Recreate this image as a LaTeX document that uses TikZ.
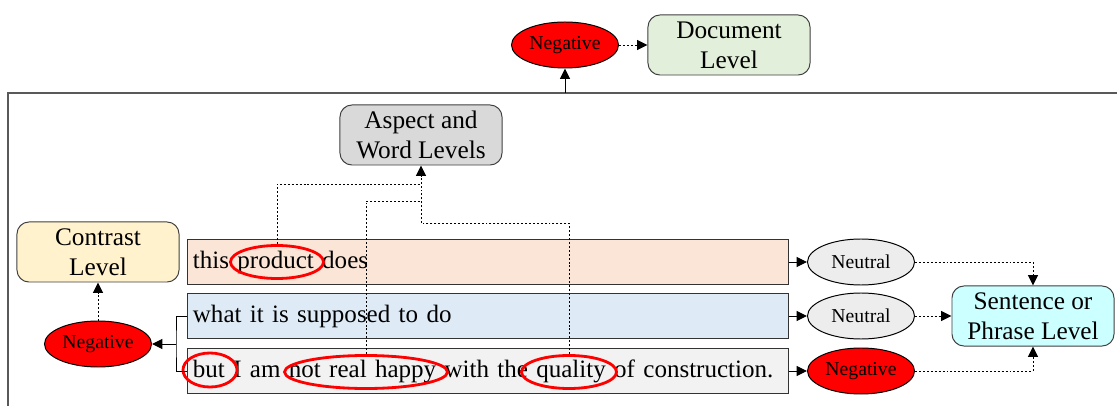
\documentclass[tikz,border=0pt]{standalone}
\usepackage{fontspec}
\setmainfont{Liberation Serif}
\usepackage{xcolor}
\usetikzlibrary{shapes.geometric,arrows.meta}
\definecolor{docgreen}{HTML}{E2EFDA}
\definecolor{aspgray}{HTML}{D9D9D9}
\definecolor{conyellow}{HTML}{FFF2CC}
\definecolor{sentcyan}{HTML}{CCFFFF}
\definecolor{rowpeach}{HTML}{FBE5D6}
\definecolor{rowblue}{HTML}{DEEBF7}
\definecolor{rowgray}{HTML}{F2F2F2}
\definecolor{neugray}{HTML}{EDEDED}

\begin{document}
\begin{tikzpicture}[
  x=0.025cm, y=-0.025cm, line width=0.7pt,
  level/.style={draw=black!75,rounded corners=0.3cm,minimum width=4.05cm,minimum height=1.5cm,inner sep=0pt,align=center,font=\fontsize{18}{21.5}\selectfont},
  rowbox/.style={draw=black!80,minimum height=1.125cm,text width=14.75cm,inner xsep=0.125cm,align=left,font=\fontsize{17.8}{21}\selectfont},
  polar/.style={ellipse,draw,minimum width=2.675cm,minimum height=1.15cm,inner sep=0pt,font=\fontsize{14}{16}\selectfont},
  neu/.style={polar,fill=neugray},
  neg/.style={polar,fill=red},
  ring/.style={ellipse,draw=red,line width=2pt,inner sep=0pt},
  arr/.style={-{Triangle[length=0.26cm,width=0.25cm]}},
  dotline/.style={dash pattern=on 1.4pt off 1.4pt},
  dotarr/.style={dotline,arr}
]
  \useasboundingbox (0,0) rectangle (1117,406);
  \draw[black!65,line width=1pt] (8,406) |- (1117,93);
  \coordinate (ftop) at (565,93);

  \node[level,fill=docgreen] (doc) at (729,45) {Document\\Level};
  \node[neg] (negdoc) at (565,45) {Negative};
  \node[level,fill=aspgray] (aspect) at (421,135) {Aspect and\\Word Levels};
  \node[level,fill=conyellow] (contrast) at (98,252) {Contrast\\Level};
  \node[level,fill=sentcyan] (sentence) at (1033,316) {Sentence or\\Phrase Level};

  \node[rowbox,fill=rowpeach] (row1) at (488,262) {this product does};
  \node[rowbox,fill=rowblue] (row2) at (488,316) {what it is supposed to do};
  \node[rowbox,fill=rowgray] (row3) at (488,371) {but I am not real happy with the quality of construction.};

  \node[neu] (pol1) at (861,262) {Neutral};
  \node[neu] (pol2) at (861,316) {Neutral};
  \node[neg] (pol3) at (861,371) {Negative};
  \node[neg] (negcon) at (98,344) {Negative};

  \node[ring,minimum width=2.325cm,minimum height=0.825cm] (rproduct) at (277,262) {};
  \node[ring,minimum width=1.35cm,minimum height=0.85cm] (rbut) at (210,370) {};
  \node[ring,minimum width=4.075cm,minimum height=0.825cm] (rhappy) at (366,372) {};
  \node[ring,minimum width=2.375cm,minimum height=0.825cm] (rquality) at (569,372) {};

  \coordinate (j1) at (421,184);
  \coordinate (j2) at (421,201);
  \coordinate (j3) at (421,223);
  \coordinate (brk) at (176,344);

  \draw[arr] (ftop) -- (negdoc);
  \draw[dotarr] (negdoc) -- (doc);
  \draw[arr] (row1.east) -- (pol1.west);
  \draw[arr] (row2.east) -- (pol2.west);
  \draw[arr] (row3.east) -- (pol3.west);
  \draw[dotarr] (pol1.east) -| (sentence.north);
  \draw[dotarr] (pol2.east) -- (sentence.west);
  \draw[dotarr] (pol3.east) -| (sentence.south);
  \draw (row2.west) -| (brk) |- (row3.west);
  \draw[arr] (brk) -- (negcon);
  \draw[dotarr] (negcon) -- (contrast);
  \draw[dotline] (rproduct.north) |- (j1);
  \draw[dotline] (rhappy.north) |- (j2);
  \draw[dotline] (rquality.north) |- (j3);
  \draw[dotarr] (j3) -- (aspect.south);
\end{tikzpicture}
\end{document}
